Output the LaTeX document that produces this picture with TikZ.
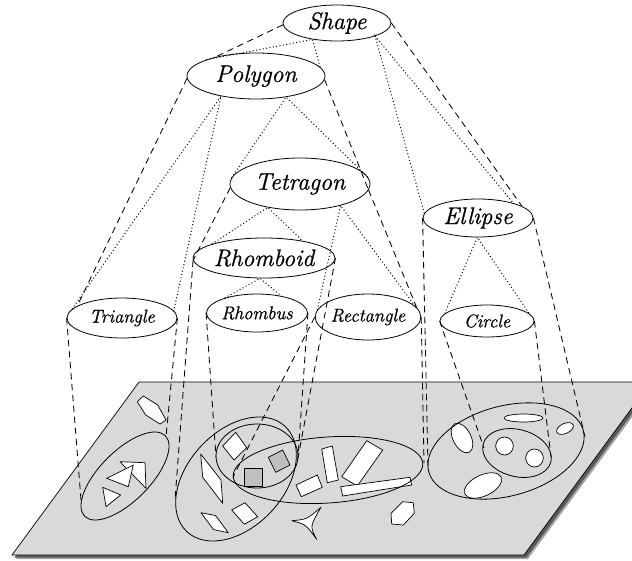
\documentclass[tikz,border=0pt]{standalone}
\usepackage{fontspec}
\newfontfamily\labfont{Latin Modern Roman}[FakeBold=0.9]
\usetikzlibrary{shapes.geometric}
\begin{document}
\begin{tikzpicture}[x=1pt,y=-1pt,
 cls/.style={ellipse, draw, line width=0.8pt, inner sep=0pt},
 bigcls/.style={cls, font=\labfont\fontsize{24}{26}\selectfont\itshape},
 smallcls/.style={cls, font=\labfont\fontsize{18.5}{20}\selectfont\itshape},
 ext/.style={line width=0.85pt, dash pattern=on 6.5pt off 4.5pt},
 isa/.style={line width=1pt, dash pattern=on 1pt off 2.4pt},
 grp/.style={line width=0.8pt},
 obj/.style={draw, fill=white, line width=0.7pt, line join=round},
 sq/.style={draw, fill=black!25, line width=0.7pt, line join=round}]
\useasboundingbox (0,0) rectangle (632,560);
\clip (0,0) rectangle (632,560);

% ---------- plane ----------
\fill[black!35] (16,559) -- (528,559) -- (655,386) -- (143,386) -- cycle;
\fill[black!65] (14.5,557.5) -- (526.5,557.5) -- (653.5,384.5) -- (141.5,384.5) -- cycle;
\filldraw[fill=black!15, line width=0.7pt] (12,555) -- (524,555) -- (651,382) -- (139,382) -- cycle;

% ---------- objects ----------
% free objects
\filldraw[obj] (137.3,401.7) -- (143.3,396) -- (157.7,405) -- (166,420) -- (160,424) -- (145.7,415) -- cycle;
\filldraw[obj] (391,513.3) -- (402.7,501.7) -- (413.3,502.7) -- (414.3,513.3) -- (403.3,525) -- (391.7,524) -- cycle;
\filldraw[obj] (291.7,520.7) .. controls (306.8,519.4) .. (321,507.3)
  .. controls (309.8,526.4) .. (316.7,539.3)
  .. controls (305.8,524.4) .. (291.7,520.7) -- cycle;

% triangles
\filldraw[obj] (102.7,487.3) -- (120.7,495) -- (106,506.7) -- cycle;
\filldraw[obj] (120,461.7) -- (145,462.7) -- (146,488.3) -- cycle;
\filldraw[obj] (106.7,478.3) -- (133.3,465) -- (128.3,486.7) -- cycle;

% rhomboids / rhombi
\filldraw[obj] (200.7,454) -- (221,480) -- (222.7,503.3) -- (202.7,477.3) -- cycle;
\filldraw[obj] (201,512.7) -- (215.5,515.5) -- (228.3,532.7) -- (213.5,529.5) -- cycle;
\filldraw[obj] (231.7,510) -- (245,502.7) -- (257.7,516.7) -- (244.3,524.3) -- cycle;
\filldraw[obj] (222.7,446) -- (235.7,432.3) -- (246.7,447.7) -- (234,460) -- cycle;
\filldraw[sq] (244.3,468.3) rectangle (262.3,486);
\filldraw[sq] (268.3,457.3) -- (282.7,450) -- (290,465) -- (275.7,472.3) -- cycle;

% rectangles
\filldraw[obj] (296,485) -- (317.3,475) -- (322.3,487.3) -- (301.3,496.7) -- cycle;
\filldraw[obj] (321.7,449) -- (332.3,446) -- (338.3,480) -- (327.3,482.7) -- cycle;
\filldraw[obj] (341.7,476.7) -- (366.7,440.7) -- (382.7,450) -- (357.3,486) -- cycle;
\filldraw[obj] (340.7,486.7) -- (410,477.3) -- (411.7,485) -- (342.7,496) -- cycle;

% ellipses / circles
\filldraw[obj, rotate around={-63:(462,438)}] (462,438) ellipse [x radius=16pt, y radius=9pt];
\filldraw[obj] (523.5,418) ellipse [x radius=19.5pt, y radius=4pt];
\filldraw[obj, rotate around={25:(565,428.5)}] (565,428.5) ellipse [x radius=9pt, y radius=5pt];
\filldraw[obj, rotate around={25:(483,485.5)}] (483,485.5) ellipse [x radius=20pt, y radius=10.5pt];
\filldraw[obj] (504.5,446) ellipse [x radius=8.8pt, y radius=9pt];
\filldraw[obj] (534.5,458) ellipse [x radius=8.8pt, y radius=9pt];

% ---------- extension ellipses on the plane ----------
\draw[grp, rotate around={45:(125,476)}] (125,476) ellipse [x radius=57pt, y radius=25pt];
\draw[grp, rotate around={47:(236,479)}] (236,479) ellipse [x radius=72pt, y radius=48pt];
\draw[grp] (257,456) ellipse [x radius=41pt, y radius=32pt];
\draw[grp, rotate around={4:(328,470)}] (328,470) ellipse [x radius=95pt, y radius=33pt];
\draw[grp, rotate around={15:(506,451)}] (506,451) ellipse [x radius=80pt, y radius=45pt];
\draw[grp, rotate around={-15:(517,453)}] (517,453) ellipse [x radius=35pt, y radius=23.5pt];

\coordinate (g1l) at (81,500);  \coordinate (g1r) at (166,437);
\coordinate (g2l) at (175,500); \coordinate (g2r) at (297,463);
\coordinate (g3l) at (216,457); \coordinate (g3r) at (298,457);
\coordinate (g4l) at (233,477); \coordinate (g4r) at (424,463);
\coordinate (g5l) at (428,467); \coordinate (g5r) at (585,437);
\coordinate (g6l) at (484,448); \coordinate (g6r) at (551,457);

% ---------- concept nodes ----------
\node[bigcls, minimum width=108pt, minimum height=36pt] (shape) at (337,23) {Shape};
\node[bigcls, minimum width=138pt, minimum height=46pt] (polygon) at (256,76) {Polygon};
\node[bigcls, minimum width=140pt, minimum height=52pt] (tetragon) at (300,184) {Tetragon};
\node[bigcls, minimum width=122pt, minimum height=40pt] (rhomboid) at (264,258) {Rhomboid};
\node[bigcls, minimum width=110pt, minimum height=38pt] (ell) at (478,218) {Ellipse};
\node[smallcls, minimum width=82pt, minimum height=38pt] (rhombus) at (257,313) {Rhombus};
\node[smallcls, minimum width=110pt, minimum height=40pt] (triangle) at (122,318) {Triangle};
\node[smallcls, minimum width=102pt, minimum height=46pt] (rectangle) at (368,317) {Rectangle};
\node[smallcls, minimum width=94pt, minimum height=32pt] (circle) at (487,321) {Circle};

% ---------- subclass (dotted) ----------
\draw[isa] (polygon.162) -- (shape.214) -- (polygon.8);
\draw[isa] (ell.175) -- (shape.341) -- (ell.23);
\draw[isa] (triangle.170) -- (polygon.210) -- (triangle.8);
\draw[isa] (tetragon.175) -- (polygon.325) -- (tetragon.5);
\draw[isa] (rhomboid.165) -- (tetragon.216) -- (rhomboid.24);
\draw[isa] (rectangle.172) -- (tetragon.332) -- (rectangle.13);
\draw[isa] (rhombus.155) -- (rhomboid.259) -- (rhombus.35);
\draw[isa] (circle.170) -- (ell.268) -- (circle.10);

% ---------- extensions (dashed) ----------
\draw[ext] (shape.182) -- (polygon.155);
\draw[ext] (shape.east) -- (ell.15);
\draw[ext] (polygon.182) -- (triangle.165);
\draw[ext] (polygon.357) -- (tetragon.355);
\draw[ext] (tetragon.355) -- (rectangle.11);
\draw[ext] (tetragon.183) -- (rhomboid.182);
\draw[ext] (triangle.west) -- (g1l);
\draw[ext] (triangle.east) -- (g1r);
\draw[ext] (rhomboid.182) -- (g2l);
\draw[ext] (rhomboid.east) -- (g2r);
\draw[ext] (rhombus.west) -- (g3l);
\draw[ext] (rhombus.east) -- (g3r);
\draw[ext] (rectangle.west) -- (g4l);
\draw[ext] (rectangle.east) -- (g4r);
\draw[ext] (ell.west) -- (g5l);
\draw[ext] (ell.east) -- (g5r);
\draw[ext] (circle.west) -- (g6l);
\draw[ext] (circle.east) -- (g6r);
\end{tikzpicture}
\end{document}
